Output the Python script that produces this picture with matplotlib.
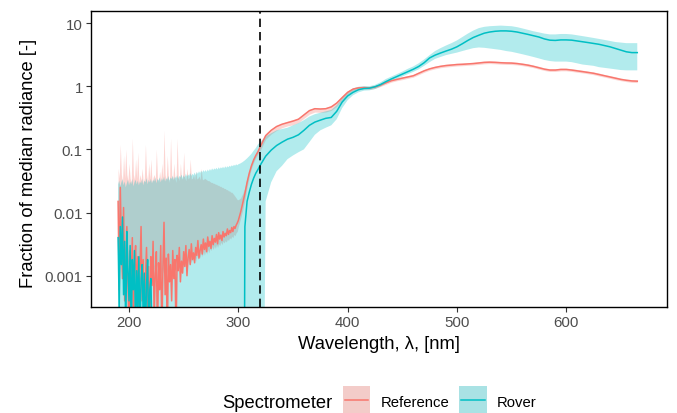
import matplotlib
matplotlib.use("Agg")
import matplotlib.pyplot as plt
from matplotlib.patches import Rectangle
from matplotlib.lines import Line2D
import numpy as np

# wavelength grids [nm]: 1 nm in the noisy UV part, then 2 nm, then 5 nm
wl_a = np.arange(190, 300, 1)
wl_b = np.arange(300, 320, 2)
wl_c = np.arange(320, 670, 5)

OFF = 1e-12  # below the plotted range (clipped at panel bottom)

# Reference spectrometer: median line
ref_a = [0.015, 0.0006, 0.025, 0.003, 0.0009, 0.012, 0.0004, 0.002, 0.006, 0.0008,
         0.0001, 0.0025, 0.0007, 0.004, 0.0001, 0.0015, 0.003, 0.0005, 0.002, 0.0001,
         0.0012, 0.006, 0.0004, 0.0018, 0.0001, 0.0009, 0.0028, 0.0003, 0.0014, 0.0001,
         0.002, 0.0007, 0.0035, 0.0002, 0.0011, 0.0024, 0.0001, 0.0016, 0.0006, 0.003,
         0.0001, 0.0013, 0.007, 0.0005, 0.0019, 0.0001, 0.0022, 0.0008, 0.0015, 0.0004,
         0.0025, 0.0009, 0.0018, 0.0001, 0.0021, 0.0012, 0.0028, 0.0008, 0.0017, 0.0011,
         0.0024, 0.0014, 0.003, 0.001, 0.0019, 0.0026, 0.0015, 0.0032, 0.0018, 0.0023,
         0.0016, 0.0028, 0.0021, 0.0036, 0.0019, 0.0025, 0.0031, 0.0022, 0.0038, 0.0026,
         0.0033, 0.0024, 0.0041, 0.0029, 0.0035, 0.0027, 0.0043, 0.0031, 0.0039, 0.0034,
         0.0045, 0.0032, 0.0048, 0.0038, 0.0044, 0.0036, 0.005, 0.0041, 0.0047, 0.0043,
         0.0055, 0.0045, 0.0052, 0.0048, 0.0058, 0.005, 0.006, 0.0056, 0.0063, 0.0068]
ref_b = [0.0075, 0.01, 0.014, 0.02, 0.03, 0.042, 0.055, 0.068, 0.08, 0.092]
ref_c = [0.11, 0.165, 0.2, 0.23, 0.25, 0.265, 0.28, 0.3, 0.35, 0.41,
         0.44, 0.435, 0.44, 0.47, 0.54, 0.66, 0.8, 0.9, 0.94, 0.95,
         0.94, 0.97, 1.04, 1.13, 1.22, 1.28, 1.34, 1.4, 1.46, 1.6,
         1.75, 1.88, 1.98, 2.06, 2.12, 2.16, 2.2, 2.22, 2.25, 2.28,
         2.33, 2.38, 2.4, 2.38, 2.35, 2.33, 2.32, 2.28, 2.22, 2.15,
         2.06, 1.96, 1.86, 1.8, 1.8, 1.84, 1.84, 1.8, 1.75, 1.7,
         1.65, 1.6, 1.53, 1.46, 1.4, 1.34, 1.28, 1.24, 1.21, 1.2]

# Reference spectrometer: upper band
ref_hi_a = [0.05, 0.035, 0.12, 0.04, 0.03, 0.08, 0.035, 0.1, 0.04, 0.032,
            0.06, 0.035, 0.03, 0.15, 0.04, 0.033, 0.07, 0.035, 0.09, 0.03,
            0.04, 0.032, 0.05, 0.03, 0.035, 0.12, 0.04, 0.03, 0.06, 0.034,
            0.07, 0.03, 0.036, 0.04, 0.032, 0.1, 0.035, 0.03, 0.045, 0.032,
            0.06, 0.034, 0.2, 0.04, 0.032, 0.08, 0.035, 0.03, 0.15, 0.04,
            0.033, 0.06, 0.035, 0.03, 0.15, 0.038, 0.032, 0.06, 0.034, 0.035,
            0.09, 0.036, 0.032, 0.05, 0.034, 0.036, 0.07, 0.034, 0.035, 0.04,
            0.033, 0.045, 0.034, 0.035, 0.038, 0.033, 0.05, 0.034, 0.033, 0.035,
            0.034, 0.033, 0.032, 0.032, 0.031, 0.03, 0.03, 0.029, 0.029, 0.028,
            0.028, 0.027, 0.027, 0.026, 0.026, 0.025, 0.025, 0.024, 0.024, 0.023,
            0.023, 0.022, 0.022, 0.021, 0.021, 0.02, 0.019, 0.018, 0.017, 0.016]
ref_hi_b = [0.016, 0.017, 0.02, 0.025, 0.035, 0.047, 0.06, 0.074, 0.087, 0.1]
ref_hi_c = [0.12, 0.175, 0.21, 0.24, 0.26, 0.28, 0.295, 0.315, 0.37, 0.43,
            0.46, 0.455, 0.46, 0.49, 0.57, 0.69, 0.84, 0.95, 0.99, 1.0,
            0.99, 1.02, 1.09, 1.19, 1.28, 1.34, 1.41, 1.47, 1.53, 1.68,
            1.84, 1.97, 2.08, 2.16, 2.23, 2.27, 2.31, 2.33, 2.36, 2.39,
            2.45, 2.5, 2.52, 2.5, 2.47, 2.45, 2.44, 2.39, 2.33, 2.26,
            2.16, 2.06, 1.95, 1.89, 1.89, 1.93, 1.93, 1.89, 1.84, 1.79,
            1.73, 1.68, 1.61, 1.53, 1.47, 1.41, 1.34, 1.3, 1.27, 1.26]

# Reference spectrometer: lower band
ref_lo_a = [0.002, 0.0014, 0.0025, 0.0016, 0.0012, 0.002, 0.0015, 0.0018, 0.0013, 0.0017,
            0.0012, 0.0016, 0.0013, 0.0018, 0.0011, 0.0015, 0.0017, 0.0012, 0.0016, 0.0011,
            0.0014, 0.0017, 0.0012, 0.0015, 0.001, 0.0014, 0.0016, 0.0011, 0.0015, 0.001,
            0.0013, 0.0015, 0.0011, 0.0014, 0.001, 0.0013, 0.0015, 0.0011, 0.0014, 0.001,
            0.0013, 0.0011, 0.0015, 0.001, 0.0013, 0.0011, 0.0014, 0.001, 0.0013, 0.0011,
            0.0013, 0.0011, 0.0014, 0.0012, 0.0015, 0.0012, 0.0016, 0.0013, 0.0015, 0.0013,
            0.0016, 0.0014, 0.0017, 0.0014, 0.0018, 0.0015, 0.0018, 0.0016, 0.0019, 0.0017,
            0.002, 0.0017, 0.0021, 0.0018, 0.0022, 0.0019, 0.0023, 0.002, 0.0024, 0.0021,
            0.0025, 0.0022, 0.0026, 0.0023, 0.0027, 0.0025, 0.0029, 0.0026, 0.003, 0.0027,
            0.0031, 0.0028, 0.0032, 0.003, 0.0034, 0.0031, 0.0035, 0.0033, 0.0036, 0.0034,
            0.0038, 0.0036, 0.004, 0.0038, 0.0042, 0.004, 0.0045, 0.0043, 0.0048, 0.005]
ref_lo_b = [0.006, 0.008, 0.011, 0.016, 0.025, 0.037, 0.05, 0.062, 0.074, 0.085]
ref_lo_c = [0.095, 0.145, 0.175, 0.2, 0.22, 0.235, 0.245, 0.265, 0.31, 0.36,
            0.39, 0.385, 0.39, 0.415, 0.48, 0.59, 0.72, 0.84, 0.89, 0.9,
            0.89, 0.92, 0.99, 1.07, 1.16, 1.22, 1.27, 1.33, 1.39, 1.52,
            1.66, 1.79, 1.88, 1.96, 2.01, 2.05, 2.09, 2.11, 2.14, 2.17,
            2.21, 2.26, 2.28, 2.26, 2.23, 2.21, 2.2, 2.17, 2.11, 2.04,
            1.96, 1.86, 1.77, 1.71, 1.71, 1.75, 1.75, 1.71, 1.66, 1.62,
            1.57, 1.52, 1.45, 1.39, 1.33, 1.27, 1.22, 1.18, 1.15, 1.14]

# Rover spectrometer: median line (no signal between ~222 and ~305 nm)
rov_a = [0.004, 0.0003, 0.006, 0.0015, 0.0085, 0.0005, 0.0035, 0.0001, 0.005, 0.0012,
         0.0004, 0.003, 0.0001, 0.0018, 0.0006, 0.0025, 0.0001, 0.0012, 0.0003, 0.002,
         0.0001, 0.0009, 0.0015, 0.0002, 0.0011, 0.0001, 0.0007, 0.0018, 0.0001, 0.0006,
         0.0009, 0.0001] + [OFF] * 78
rov_b = [OFF, OFF, OFF, 0.006, 0.015, 0.021, 0.028, 0.035, 0.042, 0.048]
rov_c = [0.056, 0.078, 0.097, 0.115, 0.13, 0.145, 0.155, 0.17, 0.2, 0.24,
         0.27, 0.29, 0.31, 0.32, 0.4, 0.56, 0.7, 0.8, 0.88, 0.92,
         0.93, 0.98, 1.06, 1.18, 1.3, 1.42, 1.55, 1.7, 1.85, 2.05,
         2.35, 2.8, 3.1, 3.35, 3.6, 3.85, 4.2, 4.7, 5.3, 5.9,
         6.4, 6.9, 7.2, 7.4, 7.5, 7.5, 7.4, 7.2, 6.9, 6.6,
         6.3, 6.0, 5.6, 5.35, 5.3, 5.4, 5.4, 5.35, 5.2, 5.05,
         4.9, 4.75, 4.6, 4.4, 4.2, 3.95, 3.7, 3.5, 3.4, 3.4]

# Rover spectrometer: upper band
rov_hi_a = [0.028, 0.032, 0.026, 0.03, 0.034, 0.027, 0.031, 0.025, 0.029, 0.033,
            0.027, 0.031, 0.028, 0.034, 0.026, 0.03, 0.033, 0.028, 0.032, 0.027,
            0.031, 0.029, 0.034, 0.027, 0.032, 0.03, 0.035, 0.028, 0.033, 0.03,
            0.034, 0.029, 0.033, 0.031, 0.036, 0.029, 0.034, 0.032, 0.036, 0.03,
            0.035, 0.032, 0.037, 0.031, 0.035, 0.033, 0.038, 0.032, 0.036, 0.034,
            0.038, 0.033, 0.037, 0.035, 0.039, 0.034, 0.038, 0.036, 0.04, 0.035,
            0.039, 0.036, 0.041, 0.037, 0.04, 0.038, 0.042, 0.038, 0.041, 0.039,
            0.043, 0.039, 0.044, 0.041, 0.045, 0.042, 0.046, 0.043, 0.047, 0.044,
            0.047, 0.044, 0.048, 0.045, 0.049, 0.046, 0.05, 0.047, 0.05, 0.048,
            0.051, 0.048, 0.052, 0.049, 0.052, 0.05, 0.053, 0.05, 0.054, 0.051,
            0.054, 0.052, 0.055, 0.053, 0.056, 0.054, 0.057, 0.055, 0.058, 0.056]
rov_hi_b = [0.058, 0.06, 0.063, 0.067, 0.072, 0.078, 0.085, 0.095, 0.105, 0.12]
rov_hi_c = [0.13, 0.16, 0.18, 0.2, 0.21, 0.22, 0.24, 0.26, 0.29, 0.33,
            0.36, 0.38, 0.4, 0.42, 0.5, 0.65, 0.8, 0.92, 0.98, 1.0,
            1.0, 1.05, 1.15, 1.3, 1.42, 1.55, 1.7, 1.88, 2.05, 2.3,
            2.65, 3.1, 3.6, 4.0, 4.4, 4.8, 5.3, 6.0, 6.8, 7.6,
            8.3, 8.7, 8.9, 9.0, 9.1, 9.0, 8.9, 8.6, 8.2, 7.8,
            7.4, 7.1, 6.8, 6.6, 6.6, 6.7, 6.7, 6.6, 6.4, 6.2,
            6.0, 5.8, 5.6, 5.4, 5.2, 5.0, 4.9, 4.8, 4.8, 4.8]

# Rover spectrometer: lower band (down to zero below ~324 nm)
rov_lo_a = [OFF] * 110
rov_lo_b = [OFF] * 10
rov_lo_c = [OFF, 0.015, 0.03, 0.045, 0.055, 0.07, 0.08, 0.09, 0.1, 0.13,
            0.17, 0.2, 0.22, 0.24, 0.3, 0.45, 0.6, 0.72, 0.8, 0.85,
            0.86, 0.9, 0.98, 1.1, 1.22, 1.3, 1.42, 1.55, 1.68, 1.85,
            2.1, 2.4, 2.7, 2.9, 3.1, 3.25, 3.4, 3.6, 3.8, 4.0,
            4.1, 4.05, 3.95, 3.85, 3.75, 3.6, 3.5, 3.35, 3.2, 3.05,
            2.9, 2.75, 2.6, 2.5, 2.45, 2.45, 2.45, 2.4, 2.3, 2.2,
            2.15, 2.1, 2.0, 1.95, 1.9, 1.85, 1.8, 1.78, 1.78, 1.78]

cutoff_nm = 320
yticks = [0.001, 0.01, 0.1, 1, 10]
ytick_labels = ["0.001", "0.01", "0.1", "1", "10"]
xticks = [200, 300, 400, 500, 600]

series = ["Reference", "Rover"]
colors = {"Reference": "#F8766D", "Rover": "#00BFC4"}

wl = np.concatenate([wl_a, wl_b, wl_c])
data = {
    "Reference": (np.r_[ref_a, ref_b, ref_c],
                  np.r_[ref_lo_a, ref_lo_b, ref_lo_c],
                  np.r_[ref_hi_a, ref_hi_b, ref_hi_c]),
    "Rover": (np.r_[rov_a, rov_b, rov_c],
              np.r_[rov_lo_a, rov_lo_b, rov_lo_c],
              np.r_[rov_hi_a, rov_hi_b, rov_hi_c]),
}

plt.rcParams['font.family'] = ['Liberation Sans', 'DejaVu Sans']

W, H = 677, 414
fig = plt.figure(figsize=(W / 100, H / 100), dpi=100)
ax = fig.add_axes([91 / W, 1 - 308.3 / H, 576 / W, 296.3 / H])

# ribbons first, then median lines
for name in series:
    med, lo, hi = data[name]
    ax.fill_between(wl, lo, hi, color=colors[name], alpha=0.3, linewidth=0)
for name in series:
    med, lo, hi = data[name]
    ax.plot(wl, med, color=colors[name], linewidth=1.1)

ax.axvline(cutoff_nm, color="black", linewidth=1.2, dashes=(5, 3))

ax.set_yscale("log")
ax.set_xlim(165.2, 692.2)
ax.set_ylim(10 ** -3.5, 10 ** 1.19)
ax.set_yticks(yticks)
ax.set_yticklabels(ytick_labels)
ax.minorticks_off()
ax.set_xticks(xticks)

ax.tick_params(direction="out", length=3.4, width=0.8, color="#333333",
               labelcolor="#4D4D4D", labelsize=10.8, pad=2.5)
for s in ax.spines.values():
    s.set_linewidth(1.0)
    s.set_color("black")

ax.set_xlabel("Wavelength, λ, [nm]", fontsize=13.2, va="center")
ax.xaxis.set_label_coords(0.5, (308.3 - 345) / 296.3)
ax.set_ylabel("Fraction of median radiance [-]", fontsize=13.2, va="center")
ax.yaxis.set_label_coords((29 - 91) / 576, 0.49)

# legend at the bottom, drawn by hand (title on the left, keys in a row)
def fx(px):
    return px / W

def fy(py):
    return 1 - py / H

fig.text(fx(222.7), fy(408.3), "Spectrometer", fontsize=13.2, va="baseline", ha="left")
key_pos = {"Reference": 342.7, "Rover": 459.0}
label_pos = {"Reference": 380.7, "Rover": 497.0}
for name in series:
    x0 = key_pos[name]
    fig.add_artist(Rectangle((fx(x0), fy(415)), 27.7 / W, 28 / H,
                             transform=fig.transFigure, facecolor="#F2F2F2", edgecolor="none"))
    fig.add_artist(Rectangle((fx(x0), fy(415)), 27.7 / W, 28 / H,
                             transform=fig.transFigure, facecolor=colors[name], alpha=0.3,
                             edgecolor="none"))
    fig.add_artist(Line2D([fx(x0 + 2), fx(x0 + 25.7)], [fy(401), fy(401)],
                          transform=fig.transFigure, color=colors[name], linewidth=1.1))
    fig.text(fx(label_pos[name]), fy(407.5), name, fontsize=10.7, va="baseline", ha="left")

fig.savefig("out.png", dpi=100)
